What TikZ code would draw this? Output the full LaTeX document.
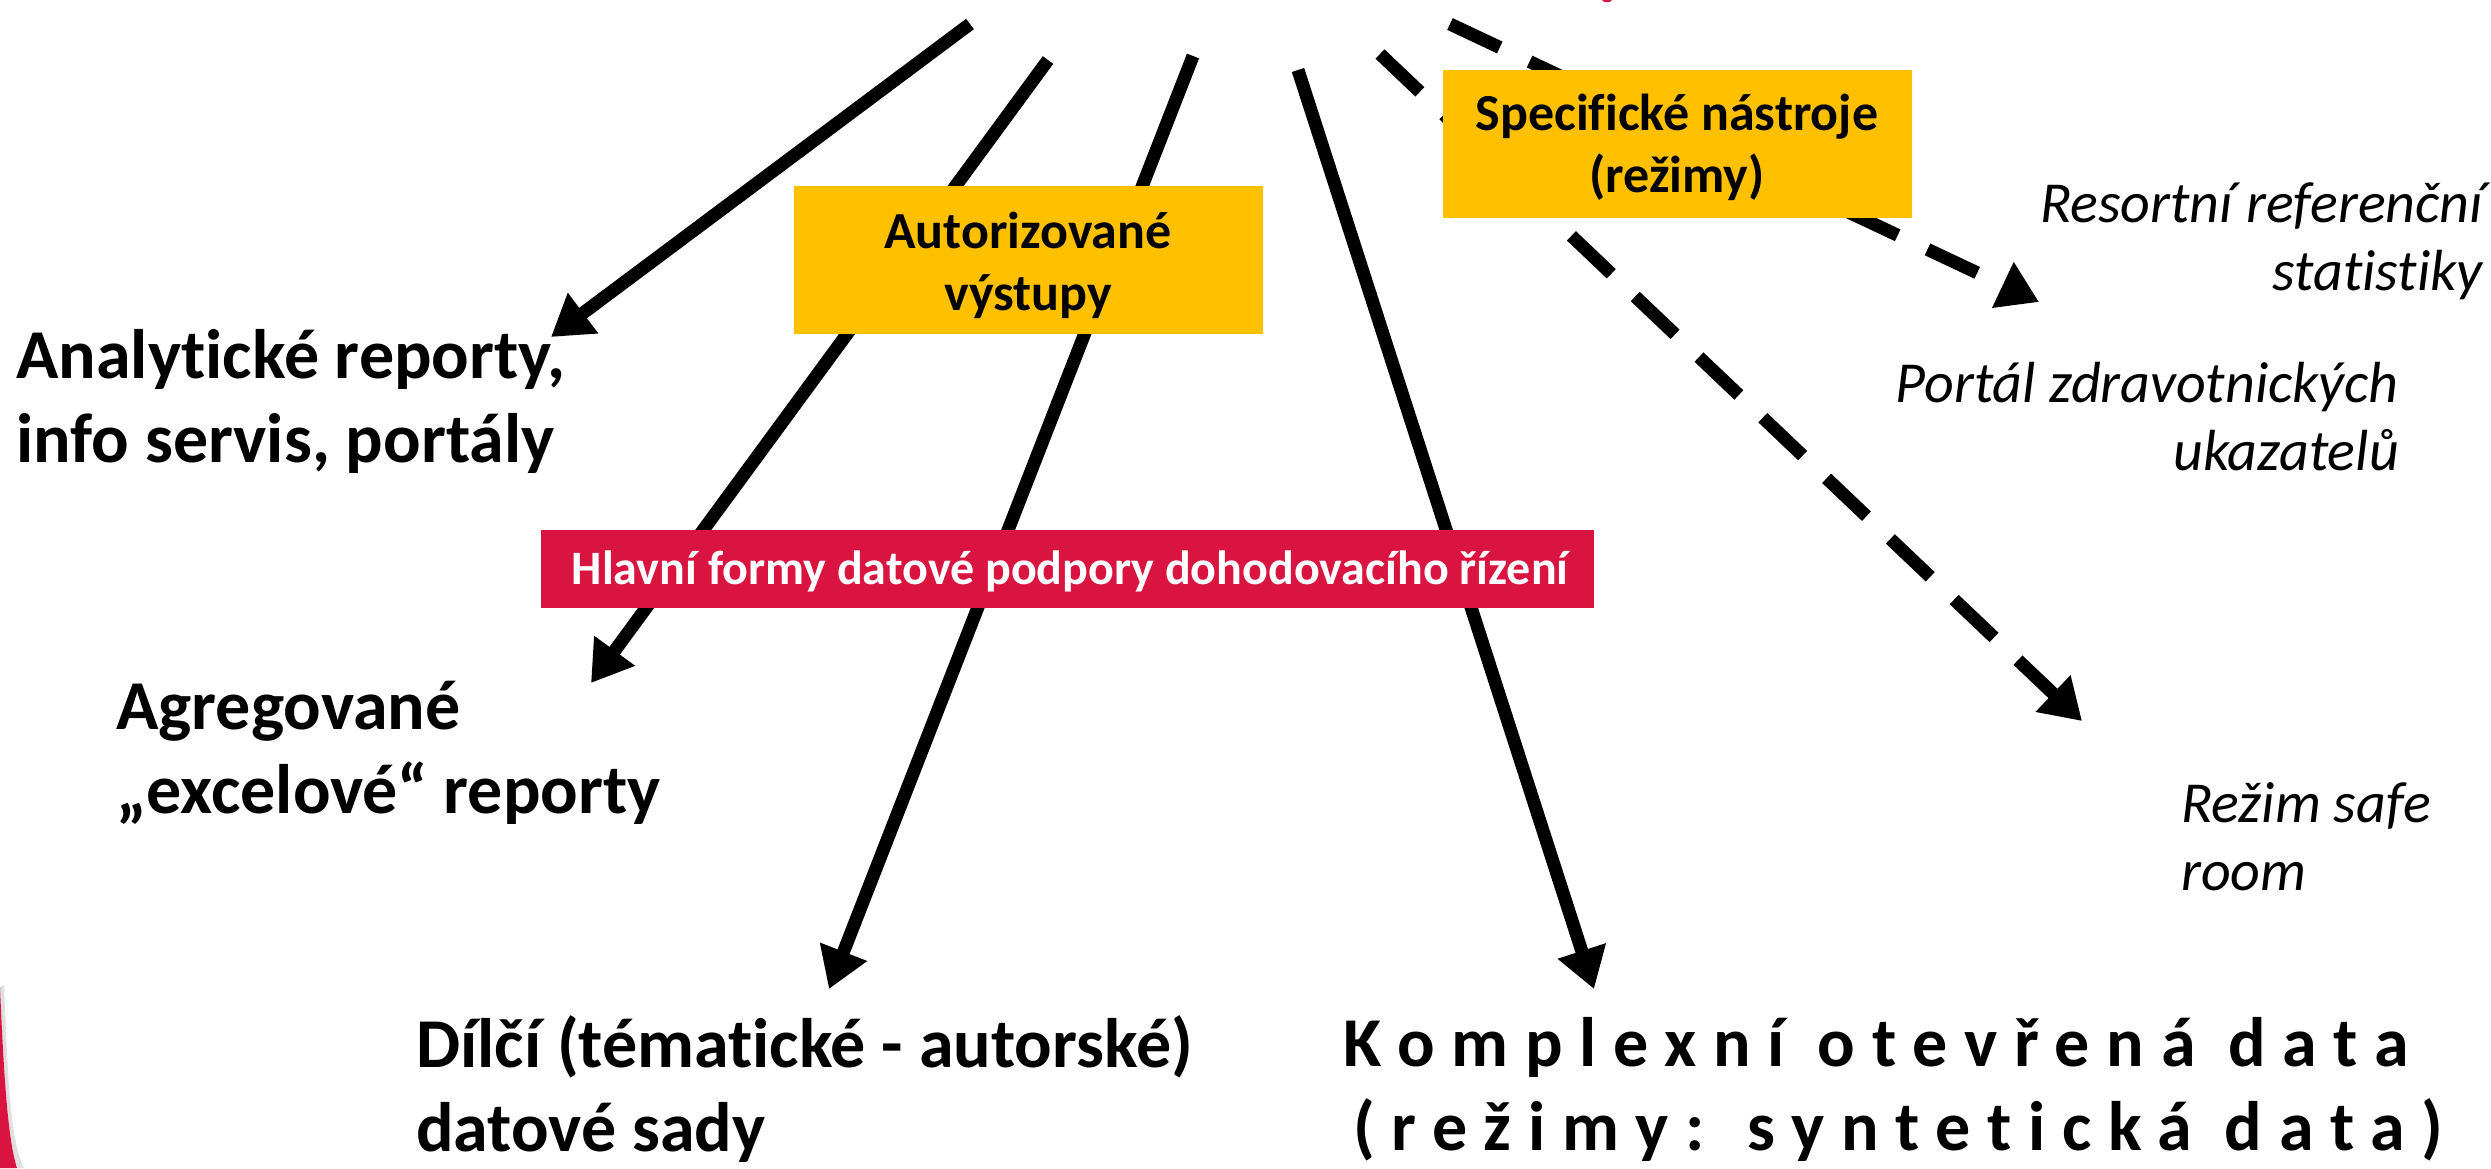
\documentclass[tikz,border=0pt]{standalone}
\usepackage{fontspec}
\setmainfont{Carlito}[Ligatures=NoCommon]
\usetikzlibrary{arrows.meta}
\definecolor{boxyellow}{RGB}{255,192,0}
\definecolor{boxred}{RGB}{218,20,64}
\tikzset{
  arr/.style={line width=13pt, -{Triangle[length=40pt,width=48pt]}},
  darr/.style={arr, dash pattern=on 55pt off 33pt},
  lbl/.style={inner sep=0pt, font=\bfseries\fontsize{70}{84}\selectfont},
  widelbl/.style={inner sep=0pt, font={\bfseries\fontsize{70}{84}\selectfont\addfontfeatures{LetterSpace=24}}},
  ital/.style={inner sep=0pt, font=\itshape\fontsize{58}{68}\selectfont},
  ybox/.style={fill=boxyellow, draw=none},
  boxtxt/.style={inner sep=0pt, align=center, font=\bfseries\fontsize{52}{62}\selectfont},
  redtxt/.style={inner sep=0pt, text=white, font=\bfseries\fontsize{48}{56}\selectfont}
}
\begin{document}
\begin{tikzpicture}[x=1pt,y=-1pt]
\useasboundingbox (0,0) rectangle (2491,1168);
% start and end points of connectors
\coordinate (s1) at (970,24);   \coordinate (e1) at (551,337);
\coordinate (s2) at (1048,60);  \coordinate (e2) at (591,683);
\coordinate (s3) at (1193,56);  \coordinate (e3) at (829,989);
\coordinate (s4) at (1298,70);  \coordinate (e4) at (1594,989);
\coordinate (s5) at (1380,54);  \coordinate (e5) at (2082,721);
\coordinate (s6) at (1450,24);  \coordinate (e6) at (2039,302);
\draw[arr] (s1) -- (e1);
\draw[arr] (s2) -- (e2);
\draw[arr] (s3) -- (e3);
\draw[arr] (s4) -- (e4);
\draw[darr] (s5) -- (e5);
\draw[darr] (s6) -- (e6);
% boxes
\fill[ybox] (794,186) rectangle (1263,334);
\node[boxtxt, anchor=base] (aut) at (1028,310) {Autorizované\\výstupy};
\fill[ybox] (1443,70) rectangle (1912,218);
\node[boxtxt, anchor=base] (spec) at (1677,192) {Specifické nástroje\\(režimy)};
\fill[boxred] (541,530) rectangle (1594,608);
\node[redtxt, anchor=base] (hlav) at (1070,584) {Hlavní formy datové podpory dohodovacího řízení};
% labels (base anchor = baseline of the last line)
\node[lbl, anchor=base west, align=left] (anal) at (16,462) {Analytické reporty,\\info servis, portály};
\node[lbl, anchor=base west, align=left] (agr) at (116,813) {Agregované\\„excelové“ reporty};
\node[lbl, anchor=base west, align=left] (dil) at (416,1151) {Dílčí (tématické - autorské)\\datové sady};
\node[widelbl, anchor=base west, align=left] (komp) at (1343,1150) {Komplexní otevřená data\\\hspace*{10pt}(režimy: syntetická data)};
\node[ital, anchor=base east, align=right] (res) at (2483,290) {Resortní referenční\\statistiky};
\node[ital, anchor=base east, align=right] (port) at (2399,470) {Portál zdravotnických\\ukazatelů};
\node[ital, anchor=base west, align=left] (rez) at (2181,890) {Režim safe\\room};
% decorative fragments at the edges
\fill[boxred] (1602,0) .. controls (1603,3) and (1611,3) .. (1612,0) -- cycle;
\fill[gray!25] (4,985) .. controls (8,1080) and (10,1140) .. (24,1168) -- (17,1168) .. controls (8,1140) and (4,1080) .. (0,987) -- cycle;
\fill[boxred] (0,987) .. controls (4,1080) and (8,1140) .. (17,1168) -- (0,1168) -- cycle;
\end{tikzpicture}
\end{document}
